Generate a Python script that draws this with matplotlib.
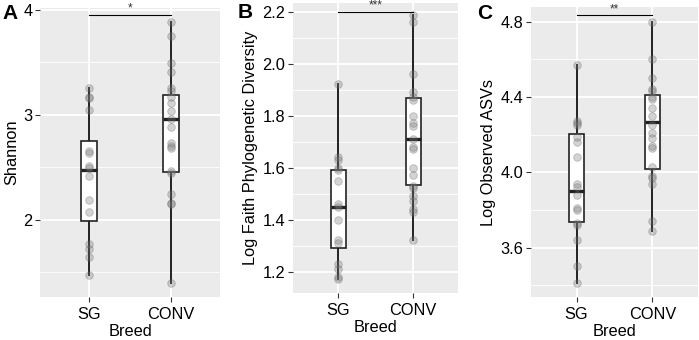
import matplotlib
matplotlib.use("Agg")
import matplotlib.pyplot as plt

plt.rcParams["font.family"] = ["Liberation Sans", "DejaVu Sans"]

groups = ["SG", "CONV"]

# panel A: Shannon
shannon_sg = [3.26, 3.17, 3.16, 3.05, 2.65, 2.64, 2.51, 2.49, 2.42, 2.19, 2.07, 1.77, 1.72, 1.64, 1.47]
shannon_conv = [3.89, 3.75, 3.49, 3.41, 3.26, 3.23, 3.17, 3.11, 3.04, 2.96, 2.88, 2.73, 2.70,
                2.68, 2.46, 2.44, 2.24, 2.16, 2.15, 1.39]
# box stats: q1, median, q3, whisker low, whisker high
shannon_box = [(1.99, 2.47, 2.75, 1.47, 3.26), (2.45, 2.96, 3.19, 1.39, 3.89)]

# panel B: log Faith PD
faith_sg = [1.92, 1.64, 1.63, 1.60, 1.59, 1.55, 1.46, 1.45, 1.40, 1.32, 1.31, 1.23, 1.21, 1.18, 1.17]
faith_conv = [2.185, 2.16, 1.96, 1.89, 1.87, 1.86, 1.80, 1.77, 1.76, 1.71, 1.68, 1.67, 1.60, 1.57,
              1.53, 1.52, 1.49, 1.47, 1.44, 1.43, 1.32]
faith_box = [(1.29, 1.45, 1.59, 1.17, 1.92), (1.535, 1.71, 1.867, 1.32, 2.185)]

# panel C: log observed ASVs
asv_sg = [4.57, 4.27, 4.26, 4.25, 4.19, 4.16, 4.08, 3.94, 3.92, 3.88, 3.81, 3.80, 3.73, 3.72,
          3.64, 3.50, 3.41]
asv_conv = [4.80, 4.60, 4.50, 4.44, 4.43, 4.40, 4.39, 4.34, 4.30, 4.25, 4.21, 4.18, 4.14, 4.13,
            4.03, 3.98, 3.97, 3.94, 3.74, 3.69]
asv_box = [(3.735, 3.903, 4.202, 3.41, 4.57), (4.018, 4.265, 4.41, 3.69, 4.80)]

panels = [
    dict(letter="A", ylabel="Shannon", data=[shannon_sg, shannon_conv], box=shannon_box,
         ylim=(1.26, 4.02), major=[2, 3, 4], minor=[1.5, 2.5, 3.5], fmt="{:.0f}",
         sig_y=3.955, sig="*", rect=[40, 8, 220, 297], letter_xy=(2, 19)),
    dict(letter="B", ylabel="Log Faith Phylogenetic Diversity", data=[faith_sg, faith_conv],
         box=faith_box, ylim=(1.118, 2.233), major=[1.2, 1.4, 1.6, 1.8, 2.0, 2.2],
         minor=[1.3, 1.5, 1.7, 1.9, 2.1], fmt="{:.1f}", sig_y=2.2, sig="***",
         rect=[293, 3, 458, 293], letter_xy=(238, 18)),
    dict(letter="C", ylabel="Log Observed ASVs", data=[asv_sg, asv_conv], box=asv_box,
         ylim=(3.338, 4.878), major=[3.6, 4.0, 4.4, 4.8], minor=[3.4, 3.8, 4.2, 4.6],
         fmt="{:.1f}", sig_y=4.835, sig="**", rect=[531, 7, 698, 297], letter_xy=(477, 19)),
]

W, H = 699, 340
fig = plt.figure(figsize=(W / 100, H / 100), dpi=100)

for p in panels:
    x0, y0, x1, y1 = p["rect"]
    ax = fig.add_axes([x0 / W, 1 - y1 / H, (x1 - x0) / W, (y1 - y0) / H])
    ax.set_facecolor("#EBEBEB")
    for s in ax.spines.values():
        s.set_visible(False)
    ax.set_xlim(0.4, 2.6)
    ax.set_ylim(*p["ylim"])

    for m in p["minor"]:
        ax.axhline(m, color="white", lw=0.6, zorder=0)
    for m in p["major"]:
        ax.axhline(m, color="white", lw=1.3, zorder=0)
    for xi in (1, 2):
        ax.axvline(xi, color="white", lw=1.3, zorder=0)

    for xi, (q1, med, q3, lo, hi) in zip((1, 2), p["box"]):
        ax.plot([xi, xi], [lo, q1], color="#222222", lw=1.4, zorder=2)
        ax.plot([xi, xi], [q3, hi], color="#222222", lw=1.4, zorder=2)
        ax.add_patch(plt.Rectangle((xi - 0.1, q1), 0.2, q3 - q1, facecolor="white",
                                   edgecolor="#222222", lw=1.2, zorder=2))
        ax.plot([xi - 0.1, xi + 0.1], [med, med], color="#222222", lw=2.4, zorder=3,
                solid_capstyle="butt")

    for xi, vals in zip((1, 2), p["data"]):
        ax.scatter([xi] * len(vals), vals, s=30, color="#7a7a7a", alpha=0.33,
                   edgecolors="#5a5a5a", linewidths=0.6, zorder=4)

    ax.plot([1, 2], [p["sig_y"], p["sig_y"]], color="black", lw=0.8, zorder=5, clip_on=False)
    ax.text(1.5, p["sig_y"], p["sig"], ha="center", va="bottom", fontsize=8.5, color="#333333",
            clip_on=False)

    ax.set_xticks([1, 2])
    ax.set_xticklabels(groups)
    ax.set_yticks(p["major"])
    ax.set_yticklabels([p["fmt"].format(v) for v in p["major"]])
    ax.tick_params(axis="both", labelsize=11.8, color="#333333", length=3.5, width=0.8,
                   labelcolor="black", pad=2)
    ax.tick_params(axis="x", pad=3.5)
    ax.set_xlabel("Breed", fontsize=11.8, labelpad=1.5)
    ax.set_ylabel(p["ylabel"], fontsize=11.8, labelpad=3)

    lx, ly = p["letter_xy"]
    fig.text(lx / W, 1 - ly / H, p["letter"], fontsize=15, fontweight="bold", ha="left",
             va="baseline")

fig.savefig("out.png", dpi=100)
